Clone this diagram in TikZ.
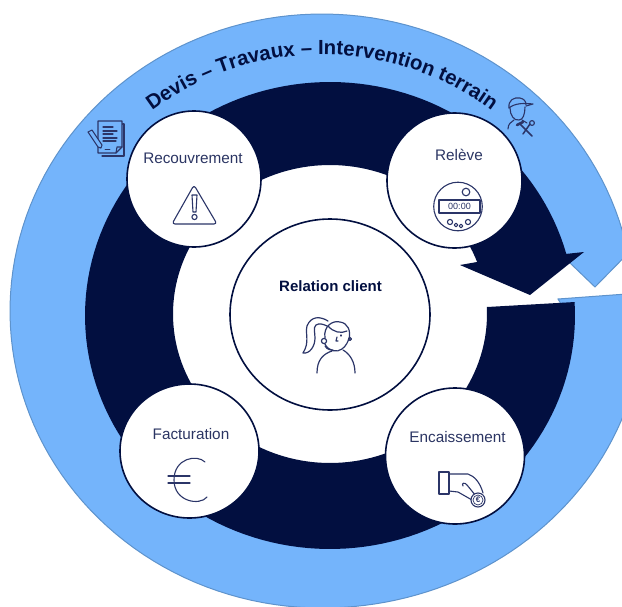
\documentclass[tikz,border=0pt]{standalone}
\usepackage{fontspec}
\setmainfont{Liberation Sans}
\usetikzlibrary{shapes.geometric,decorations.text}
\definecolor{skyfill}{HTML}{74B4FB}
\definecolor{skyline}{HTML}{5E93CC}
\definecolor{navyfill}{HTML}{020F40}
\definecolor{labelink}{HTML}{2B3563}
\definecolor{iconink}{HTML}{2B3568}
\newcommand\arcfont{\fontsize{20.4}{20}\selectfont\bfseries\color{navyfill}}
\tikzset{
  x=1pt,y=-1pt,
  stage/.style={shape=ellipse,draw=navyfill,fill=white,line width=1.6pt,inner sep=0pt},
  lab/.style={font=\fontsize{15.3}{16}\selectfont,text=labelink,inner sep=0pt},
  icon/.style={draw=iconink,line width=1.1pt,line cap=round,line join=round},
  thinicon/.style={draw=iconink,line width=.7pt,line cap=round,line join=round},
}
\begin{document}
\begin{tikzpicture}
\useasboundingbox (0,0) rectangle (622,606);
\clip (0,0) rectangle (622,606);
% light blue band
\path[fill=skyfill,draw=skyline,line width=1pt]
  (558,299) -- (640,293)
  -- plot[domain=-3:90,samples=50] ({322+322*cos(\x)},{311+297*sin(\x)})
  -- plot[domain=90:348.8,samples=120] ({322+312*cos(\x)},{311+297*sin(\x)})
  -- (595,287) -- (570,263)
  -- plot[domain=344:-2,samples=160] ({330+240*cos(\x)},{315.5+230*sin(\x)})
  -- (566,312) -- cycle;
% dark band with arrow head
\path[fill=navyfill]
  (487,307) -- (575,302)
  -- plot[domain=-3.3:344.7,samples=160] ({330+245*cos(\x)},{315.5+233.5*sin(\x)})
  -- (584,252) -- (530,295) -- (460,265) -- (477,262)
  -- plot[domain=339.6:-2.7,samples=160] ({330+157*cos(\x)},{314+149*sin(\x)})
  -- cycle;
% curved title
\path[decorate,decoration={text along path,text align=center,
  text={|\arcfont|Devis – Travaux – Intervention terrain}}]
  plot[domain=225:315,samples=70] ({322+285*cos(\x)},{339.5+285*sin(\x)});
% stages
\node[stage,minimum width=134pt,minimum height=136pt] (recouv) at (194,179) {};
\node[stage,minimum width=135pt,minimum height=135pt] (releve) at (454.5,180.5) {};
\node[stage,minimum width=139pt,minimum height=136pt] (encais) at (455,456) {};
\node[stage,minimum width=139pt,minimum height=134pt] (factu) at (189.5,451) {};
\node[stage,minimum width=200pt,minimum height=191pt] (relation) at (330,314.5) {};
% labels
\node[lab] (lrecouv) at (193,158) {Recouvrement};
\node[lab] (lreleve) at (459,155) {Relève};
\node[lab] (lencais) at (457.5,437) {Encaissement};
\node[lab] (lfactu) at (191,434) {Facturation};
\node[lab,font=\fontsize{15}{16}\selectfont\bfseries,text=navyfill] (lrelation) at (330.5,286) {Relation client};
% warning icon
\draw[icon,rounded corners=3pt] (194,185) -- (217,224) -- (172,224) -- cycle;
\draw[icon] (192,195) -- (197,195) -- (196,212) -- (193,212) -- cycle;
\draw[icon] (194.5,217) circle (2.6);
% meter icon
\draw[icon] (458,206.5) circle [radius=24.3];
\draw[icon,fill=white] (466,192) circle [radius=3.8];
\draw[icon,fill=white] (439,200) rectangle (480,213);
\node[inner sep=0pt,text=iconink,font=\fontsize{9}{9}\selectfont] (clock) at (459.5,206.5) {00:00};
\draw[icon,fill=white] (450,222) circle [radius=2.6];
\draw[icon,fill=white] (456,225) circle [radius=1.8];
\draw[icon,fill=white] (461,226) circle [radius=1.8];
\draw[icon,fill=white] (468,222) circle [radius=2.6];
% agent icon
\draw[icon,line width=1.2pt] (328,321) .. controls (320,316) and (311,316) .. (307,326)
  .. controls (305,334) and (310,342) .. (303,353)
  .. controls (310,354) and (315,346) .. (315,338)
  .. controls (315,332) and (313,328) .. (316,325) .. controls (319,323) and (323,324) .. (327,326);
\draw[icon,line width=1.2pt] (325,338) .. controls (323,326) and (333,320) .. (340,322)
  .. controls (348,323) and (351,331) .. (349,339);
\draw[icon,line width=1.2pt] (328,326) .. controls (333,332) and (341,334) .. (347,331);
\draw[icon,line width=1.2pt] (325,344) .. controls (328,351) and (337,353) .. (342,349)
  .. controls (346,346) and (348,342) .. (349,338);
\draw[icon,fill=white,line width=1.2pt] (324,341) circle [radius=2.6];
\draw[icon] (350,339) circle [radius=1.5];
\draw[icon] (325,346) .. controls (327,350) and (331,350) .. (333,350);
\draw[icon] (337,337) -- (336,341) -- (338,341);
\draw[icon] (341,335) -- (341,336);
\draw[icon,line width=1.2pt] (317,373) .. controls (317,360) and (323,354) .. (332,351);
\draw[icon,line width=1.2pt] (343,350) .. controls (350,354) and (355,362) .. (355,373);
% hand icon
\draw[icon] (439,472) rectangle (449,494);
\draw[icon] (449,474) -- (468,474) .. controls (474,476) and (480,482) .. (483,493);
\draw[icon] (449,491) -- (458,492) -- (472,500);
\draw[icon] (463,486) .. controls (461,483) and (465,482) .. (467,485) -- (476,496);
\draw[icon,fill=white] (478,500) circle [radius=7];
\draw[thinicon] (478,500) circle [radius=5];
\node[inner sep=0pt,text=iconink,font=\fontsize{8}{8}\selectfont\bfseries] (coin) at (478,500) {€};
% euro icon
\draw[icon] (205,462) .. controls (197,454) and (174,458) .. (174,480)
  .. controls (174,502) and (200,506) .. (207,497);
\draw[icon,line width=1.2pt] (168,476) -- (190,476);
\draw[icon,line width=1.2pt] (168,483) -- (190,483);
% document icon
\draw[icon] (102,124) -- (124,124) -- (124,156) -- (102,156);
\draw[icon,fill=skyfill] (98,121) -- (122,121) -- (122,147) -- (116,153) -- (98,153) -- cycle;
\draw[icon] (122,147) -- (117,147) -- (116,153);
\foreach \yy/\xe in {127/113,131/117,134/113,138/117,141/116}
  \draw[icon] (103,\yy) -- (\xe,\yy);
\draw[thinicon] (105,149) -- (110,149);
\draw[icon,fill=skyfill] (88,132) -- (92,130) -- (102,145) -- (101,148) -- (98,147) -- cycle;
% worker icon
\draw[icon] (509,108) .. controls (508,100) and (514,97) .. (520,98)
  .. controls (524,99) and (526,101) .. (526,105);
\draw[icon] (509,108) .. controls (515,103) and (524,103) .. (533,104) -- (526,106);
\draw[icon] (510,108) .. controls (510,115) and (514,121) .. (519,120) .. controls (523,120) and (525,114) .. (525,107);
\draw[icon] (508,129) .. controls (508,124) and (511,122) .. (514,120);
\draw[icon] (522,120) -- (527,123);
\draw[icon,line width=1.5pt] (520,124) -- (532,136);
\draw[icon,line width=1.5pt] (530,124) -- (523,134);
\draw[icon,line width=2.5pt] (517,125) -- (523,122);
\draw[icon] (532,123) circle [radius=2.4];
\end{tikzpicture}
\end{document}
